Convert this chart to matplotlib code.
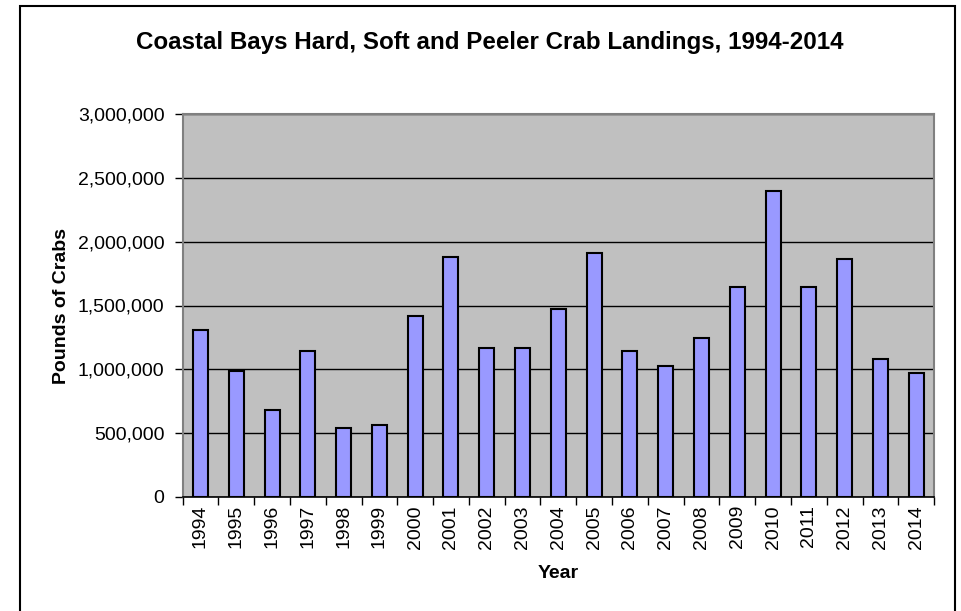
import matplotlib
matplotlib.use("Agg")
import matplotlib.pyplot as plt
from matplotlib.patches import Rectangle
from matplotlib.ticker import FuncFormatter, FixedLocator
import numpy as np

plt.rcParams['font.family'] = ['Liberation Sans', 'DejaVu Sans']

# data
years = ['1994', '1995', '1996', '1997', '1998', '1999', '2000', '2001', '2002', '2003',
         '2004', '2005', '2006', '2007', '2008', '2009', '2010', '2011', '2012', '2013', '2014']
pounds = [1305000, 988000, 682000, 1147000, 538000, 562000, 1419000, 1884000, 1168000, 1168000,
          1474000, 1910000, 1147000, 1024000, 1244000, 1646000, 2399000, 1646000, 1863000, 1084000, 972000]
y_ticks = [0, 500000, 1000000, 1500000, 2000000, 2500000, 3000000]

fig = plt.figure(figsize=(9.61, 6.11), dpi=100)
ax = fig.add_axes([0.190, 0.187, 0.782, 0.626])

x = np.arange(len(years))
ax.set_facecolor('#C0C0C0')
ax.bar(x, pounds, width=0.42, color='#9999FF', edgecolor='black', linewidth=1.5, zorder=3)

ax.set_ylim(0, 3000000)
ax.set_xlim(-0.5, len(years) - 0.5)
ax.set_yticks(y_ticks)
ax.yaxis.set_major_formatter(FuncFormatter(lambda v, p: '{:,.0f}'.format(v)))
ax.grid(axis='y', color='black', linewidth=1, zorder=1)

# labels at bar centres, tick marks between the bars
ax.set_xticks(x)
ax.set_xticklabels(years, rotation=90)
ax.xaxis.set_minor_locator(FixedLocator(np.arange(-0.5, len(years), 1.0)))
ax.tick_params(axis='x', which='major', length=0, pad=6, labelsize=14)
ax.tick_params(axis='x', which='minor', length=6, width=1, color='black', direction='out')
ax.tick_params(axis='y', length=6, width=1, color='black', pad=7, labelsize=14)

for side in ['top', 'right', 'left']:
    ax.spines[side].set_color('#808080')
    ax.spines[side].set_linewidth(1.5)
ax.spines['bottom'].set_color('black')
ax.spines['bottom'].set_linewidth(1.2)

ax.set_ylabel('Pounds of Crabs', fontsize=14, fontweight='bold', labelpad=6)
ax.set_xlabel('Year', fontsize=14, fontweight='bold', labelpad=12)
fig.text(0.510, 0.930, 'Coastal Bays Hard, Soft and Peeler Crab Landings, 1994-2014',
         ha='center', va='center', fontsize=17.4, fontweight='bold')

# chart frame, bottom edge is cut off in the original
fig.patches.append(Rectangle((0.0203, -0.02), 0.9735, 1.01, transform=fig.transFigure,
                             fill=False, edgecolor='black', linewidth=1.5, clip_on=False))

fig.savefig('out.png', dpi=100)
